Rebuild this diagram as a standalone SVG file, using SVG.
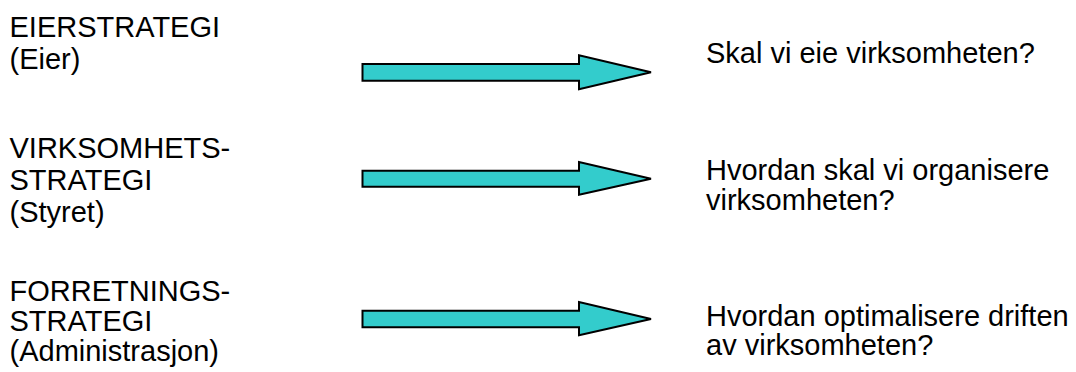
<svg xmlns="http://www.w3.org/2000/svg" width="1076" height="372" viewBox="0 0 1076 372">
<style>
text{font-family:"Liberation Sans",Arial,sans-serif;font-size:29px;fill:#000}
.arr{fill:#33CCCC;stroke:#000;stroke-width:2;stroke-linejoin:miter}
</style>
<rect width="1076" height="372" fill="#fff"/>
<g id="node-eier">
<text x="9.5" y="37">EIERSTRATEGI</text>
<text x="9.5" y="69">(Eier)</text>
</g>
<g id="node-styret">
<text x="9.5" y="158">VIRKSOMHETS-</text>
<text x="9.5" y="190">STRATEGI</text>
<text x="9.5" y="222">(Styret)</text>
</g>
<g id="node-admin">
<text x="9.5" y="301">FORRETNINGS-</text>
<text x="9.5" y="331">STRATEGI</text>
<text x="9.5" y="361">(Administrasjon)</text>
</g>
<g id="node-q1">
<text x="706" y="63">Skal vi eie virksomheten?</text>
</g>
<g id="node-q2">
<text x="706" y="180">Hvordan skal vi organisere</text>
<text x="706" y="209.5">virksomheten?</text>
</g>
<g id="node-q3">
<text x="706" y="325.5">Hvordan optimalisere driften</text>
<text x="706" y="355">av virksomheten?</text>
</g>
<g id="connectors">
<polygon class="arr" points="362.5,64 579,64 579,55.3 651,72.3 579,89.3 579,80.7 362.5,80.7"/>
<polygon class="arr" points="362.5,170.7 579,170.7 579,162 651,178.7 579,194.7 579,186.7 362.5,186.7"/>
<polygon class="arr" points="362.5,310.7 579,310.7 579,302 651,319 579,335.3 579,327.3 362.5,327.3"/>
</g>
</svg>
